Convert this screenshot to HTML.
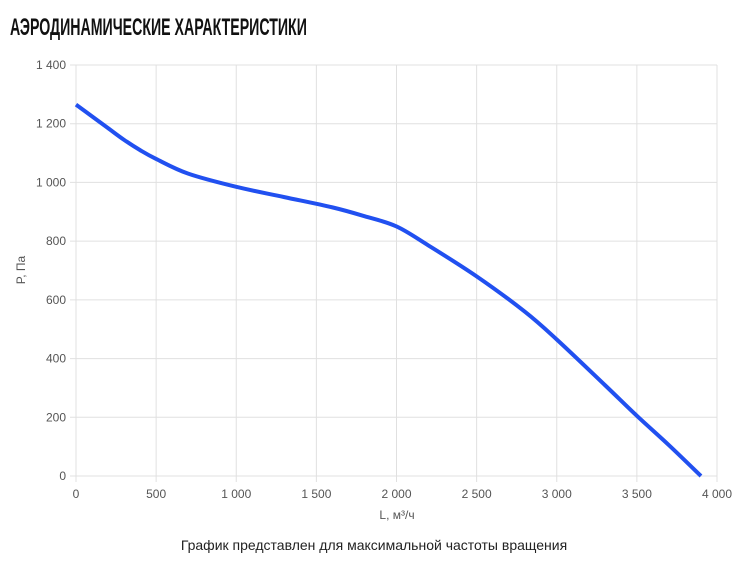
<!DOCTYPE html>
<html><head><meta charset="utf-8"><style>
body{margin:0;background:#fff;width:747px;height:565px;overflow:hidden;font-family:"Liberation Sans",sans-serif}
#title{position:absolute;left:10px;top:14px;font-family:"Liberation Sans Narrow","Liberation Sans",sans-serif;font-weight:bold;font-size:24px;color:#111;transform-origin:0 0;transform:scaleX(0.59);white-space:nowrap;letter-spacing:0px}
svg{position:absolute;left:0;top:0}
</style></head><body>
<div id="title">АЭРОДИНАМИЧЕСКИЕ ХАРАКТЕРИСТИКИ</div>
<svg id="chart" width="747" height="565"></svg>
<script>
const xTicks=[0,500,1000,1500,2000,2500,3000,3500,4000];
const yTicks=[0,200,400,600,800,1000,1200,1400];
const flow=[0,100,200,300,400,500,700,1000,1300,1600,1800,2000,2200,2500,2800,3000,3300,3500,3700,3900];
const pressure=[1265,1225,1185,1145,1110,1080,1030,985,950,915,885,850,785,680,560,465,310,205,105,0];
const svg=document.getElementById('chart');const NS='http://www.w3.org/2000/svg';
const x0=76,x1=717,y0=476,y1=65;
const sx=v=>x0+(x1-x0)*v/4000, sy=v=>y0-(y0-y1)*v/1400;
const fmt=v=>String(v).replace(/\B(?=(\d{3})+(?!\d))/g,' ');
function mk(t,a){const e=document.createElementNS(NS,t);for(const k in a)e.setAttribute(k,a[k]);svg.appendChild(e);return e;}
yTicks.forEach(v=>{
 const l=mk('line',{x1:x0-6,x2:x1,y1:sy(v),y2:sy(v),stroke:'#e0e0e0','stroke-width':1});
 
 
 const t=mk('text',{x:x0-10,y:sy(v)+4,'text-anchor':'end','font-size':12,fill:'#555'});
 t.textContent=fmt(v);
 
 
});
xTicks.forEach(v=>{
 const l=mk('line',{x1:sx(v),x2:sx(v),y1:y1,y2:y0+6,stroke:'#e0e0e0','stroke-width':1});
 
 
 const t=mk('text',{x:sx(v),y:y0+22,'text-anchor':'middle','font-size':12,fill:'#555'});
 t.textContent=fmt(v);
 
 
});
let d='';
const pts=flow.map((f,i)=>[sx(f),sy(pressure[i])]);
d='M'+pts[0][0]+','+pts[0][1];
for(let i=0;i<pts.length-1;i++){
 const p0=pts[i-1]||pts[i],p1=pts[i],p2=pts[i+1],p3=pts[i+2]||p2;
 d+=` C${p1[0]+(p2[0]-p0[0])/6},${p1[1]+(p2[1]-p0[1])/6} ${p2[0]-(p3[0]-p1[0])/6},${p2[1]-(p3[1]-p1[1])/6} ${p2[0]},${p2[1]}`;
}
const line=mk('path',{d:d,fill:'none',stroke:'#2150f0','stroke-width':4,'stroke-linejoin':'round'});


const xt=mk('text',{x:397,y:519,'text-anchor':'middle','font-size':12,fill:'#555'});xt.textContent='L, м³/ч';


const yt=mk('text',{x:0,y:0,'text-anchor':'middle','font-size':12,fill:'#555',transform:'translate(25,270) rotate(-90)'});yt.textContent='P, Па';


const cap=mk('text',{x:374,y:550,'text-anchor':'middle','font-size':14,fill:'#222'});cap.textContent='График представлен для максимальной частоты вращения';


</script>
</body></html>
